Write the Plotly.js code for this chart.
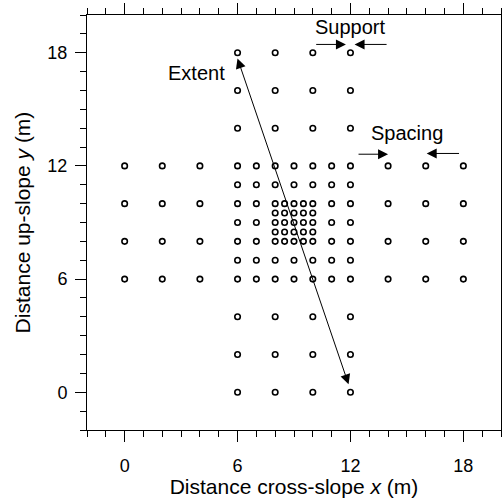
<!DOCTYPE html>
<html>
<head>
<meta charset="utf-8">
<script src="https://cdn.plot.ly/plotly-3.0.1.min.js"></script>
<style>html,body{margin:0;padding:0;background:#fff;}#chart{width:502px;height:498px;}</style>
</head>
<body>
<div id="chart"></div>
<script>
// Sampling design: rows of up-slope distance and the cross-slope positions sampled on each row
const rowY = [0, 2, 4, 6, 7, 8, 8.5, 9, 9.5, 10, 11, 12, 14, 16, 18];
const rowX = [
  [6, 8, 10, 12],
  [6, 8, 10, 12],
  [6, 8, 10, 12],
  [0, 2, 4, 6, 7, 8, 9, 10, 11, 12, 14, 16, 18],
  [6, 7, 8, 9, 10, 11, 12],
  [0, 2, 4, 6, 7, 8, 8.5, 9, 9.5, 10, 11, 12, 14, 16, 18],
  [8, 8.5, 9, 9.5, 10],
  [6, 7, 8, 8.5, 9, 9.5, 10, 11, 12],
  [8, 8.5, 9, 9.5, 10],
  [0, 2, 4, 6, 7, 8, 8.5, 9, 9.5, 10, 11, 12, 14, 16, 18],
  [6, 7, 8, 9, 10, 11, 12],
  [0, 2, 4, 6, 7, 8, 9, 10, 11, 12, 14, 16, 18],
  [6, 8, 10, 12],
  [6, 8, 10, 12],
  [6, 8, 10, 12]
];
const xTickVals = [0, 6, 12, 18];
const yTickVals = [0, 6, 12, 18];
const labels = ['Extent', 'Support', 'Spacing'];

const px = [], py = [];
rowY.forEach((y, i) => rowX[i].forEach(x => { px.push(x); py.push(y); }));

const FONT = 'Arial, "Liberation Sans", sans-serif';

const trace = {
  x: px, y: py, type: 'scatter', mode: 'markers',
  marker: {symbol: 'circle-open', size: 5.5, color: '#000', line: {width: 1.6, color: '#000'}},
  hoverinfo: 'skip', showlegend: false
};

function arrow(x, y, ax, ay, both) {
  return {x: x, y: y, ax: ax, ay: ay, xref: 'x', yref: 'y', axref: 'x', ayref: 'y',
    text: '', showarrow: true, arrowhead: 2, arrowsize: 2, arrowwidth: 1, arrowcolor: '#000',
    startarrowhead: 2, startarrowsize: 2, arrowside: both ? 'end+start' : 'end'};
}
function label(t, x, y) {
  return {x: x, y: y, xref: 'x', yref: 'y', text: t, showarrow: false,
    font: {family: FONT, size: 20, color: '#000'}, xanchor: 'center', yanchor: 'middle'};
}

const axisCommon = {
  range: [-2, 20], showgrid: false, zeroline: false,
  showline: true, linecolor: '#000', linewidth: 1, mirror: 'ticks',
  ticks: 'outside', ticklen: 11, tickwidth: 1, tickcolor: '#000',
  tickmode: 'array',
  tickfont: {family: FONT, size: 18, color: '#000'},
  minor: {dtick: 1, tick0: 0, ticks: 'outside', ticklen: 6, tickwidth: 1, tickcolor: '#000', showgrid: false}
};

const layout = {
  width: 502, height: 498,
  margin: {l: 87, r: 1, t: 15, b: 68},
  paper_bgcolor: '#fff', plot_bgcolor: '#fff',
  font: {family: FONT, color: '#000'},
  xaxis: Object.assign({}, axisCommon, {
    tickvals: xTickVals, ticktext: xTickVals.map(String), ticklabelstandoff: 8,
    title: {text: 'Distance cross-slope <i>x</i> (m)', font: {family: FONT, size: 21, color: '#000'}, standoff: 0}
  }),
  yaxis: Object.assign({}, axisCommon, {
    tickvals: yTickVals, ticktext: yTickVals.map(String), ticklabelstandoff: 4,
    title: {text: 'Distance up-slope <i>y</i> (m)', font: {family: FONT, size: 21, color: '#000'}, standoff: 11}
  }),
  annotations: [
    arrow(11.9, 0.42, 5.97, 17.78, true),
    arrow(11.76, 18.44, 10.1, 18.44, false),
    arrow(12.22, 18.44, 14.0, 18.44, false),
    arrow(14.0, 12.62, 12.35, 12.62, false),
    arrow(16.05, 12.66, 17.85, 12.66, false),
    label(labels[0], 3.8, 16.95),
    label(labels[1], 12.0, 19.34),
    label(labels[2], 15.03, 13.77)
  ]
};

Plotly.newPlot('chart', [trace], layout, {staticPlot: true, displayModeBar: false});
</script>
</body>
</html>
